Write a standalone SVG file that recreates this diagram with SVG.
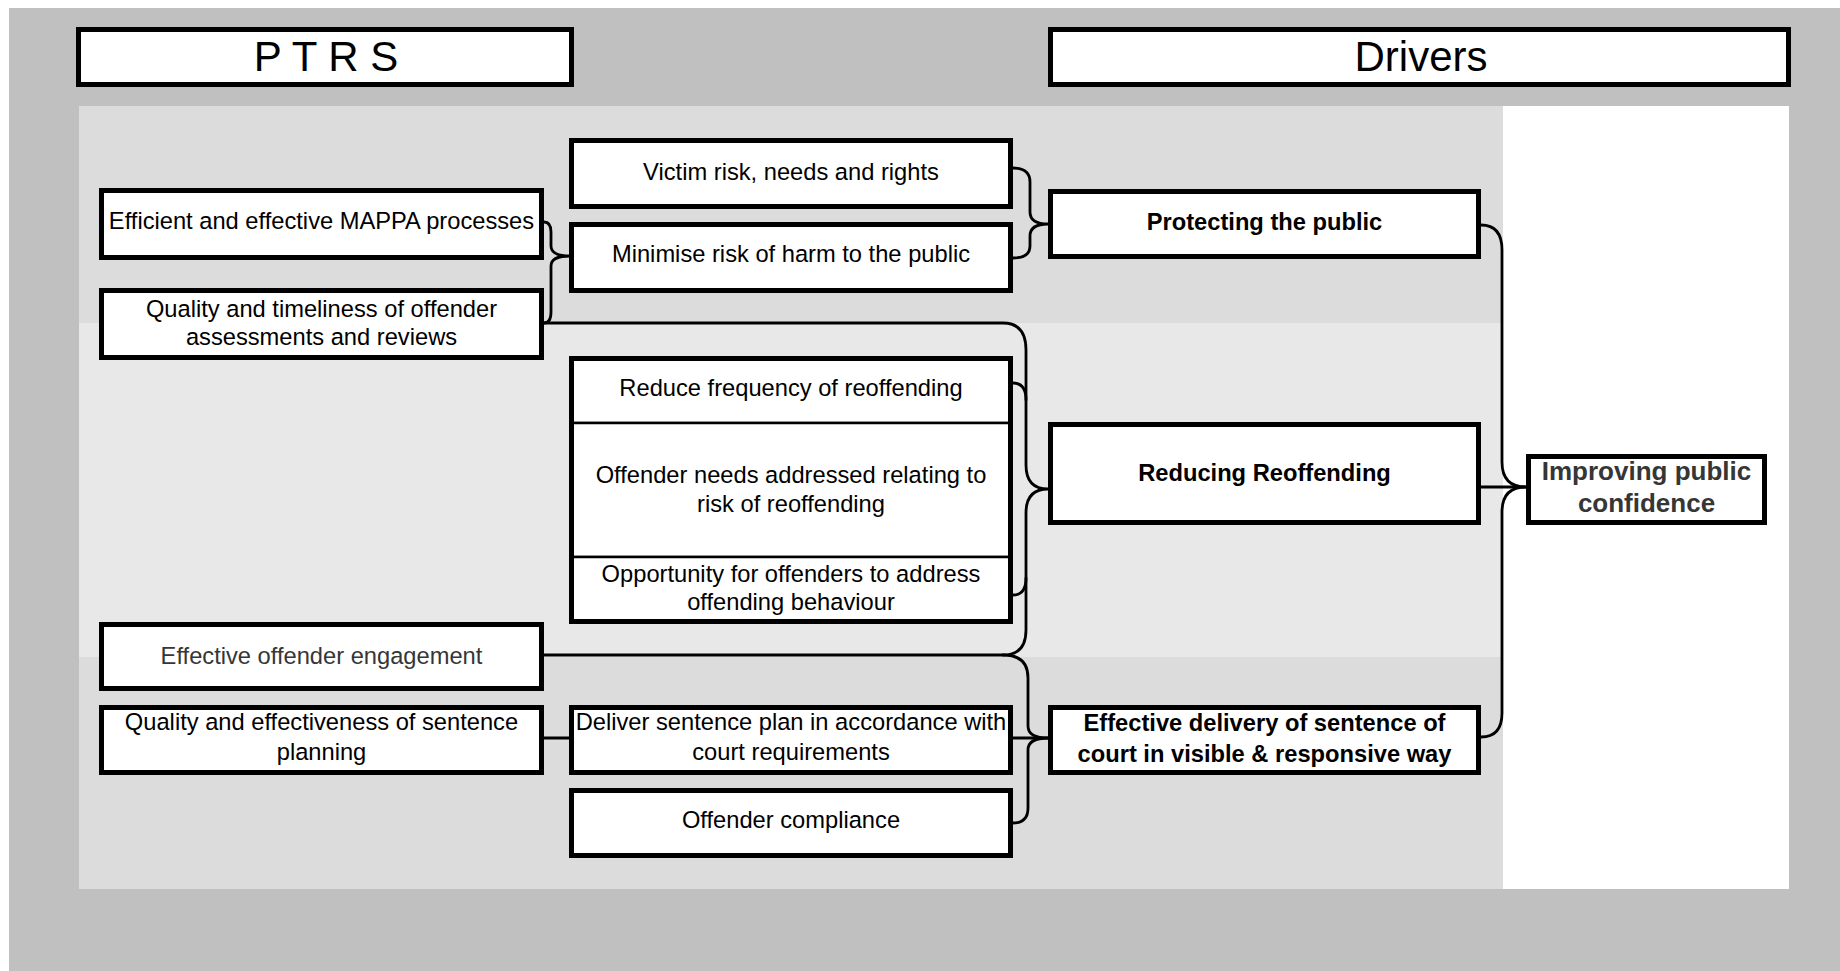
<svg xmlns="http://www.w3.org/2000/svg" width="1840" height="971" viewBox="0 0 1840 971">
<style>
.box{fill:#fff;stroke:#000;stroke-width:5}
.cell{fill:#fff;stroke:#000;stroke-width:2.5}
.frame{fill:none;stroke:#000;stroke-width:5}
.conn{fill:none;stroke:#000;stroke-width:2.8;stroke-linejoin:round;stroke-linecap:round}
.t{font-family:"Liberation Sans",Arial,sans-serif;font-size:23.7px;fill:#000;text-anchor:middle}
.b{font-weight:bold}
.g{fill:#363636}
.h{font-family:"Liberation Sans",Arial,sans-serif;font-size:42px;fill:#000;text-anchor:middle}
</style>
<rect x="0" y="0" width="1840" height="971" fill="#fff"/>
<rect x="9" y="8" width="1831" height="963" fill="#c0c0c0"/>
<rect x="79" y="106" width="1424" height="217" fill="#dcdcdc"/>
<rect x="79" y="323" width="1424" height="334" fill="#e8e8e8"/>
<rect x="79" y="657" width="1424" height="232" fill="#dcdcdc"/>
<rect x="1503" y="106" width="286" height="783" fill="#fff"/>

<g id="connectors">
<path class="conn" d="M1013 168 Q1030 168 1030 182 L1030 212 Q1030 224 1048 224 Q1030 224 1030 236 L1030 246 Q1030 258 1013 258"/>
<path class="conn" d="M544 222 Q551 222 551 232 L551 246 Q551 256 570 256 Q551 256 551 266 L551 312 Q551 323 544 323"/>
<path class="conn" d="M544 323 L1003 323 Q1026 323 1026 350 L1026 465 Q1026 489 1048 489 Q1026 489 1026 513 L1026 630 Q1026 655 1003 655 L544 655"/>
<path class="conn" d="M1013 383 Q1026 383 1026 400 M1026 578 Q1026 595 1013 595"/>
<path class="conn" d="M1003 655 Q1028 655 1028 678 L1028 726 Q1028 738 1048 738 Q1028 738 1028 750 L1028 808 Q1028 823 1013 823"/>
<path class="conn" d="M1013 738 L1048 738"/>
<path class="conn" d="M544 738 L570 738"/>
<path class="conn" d="M1481 225 Q1502 225 1502 250 L1502 462 Q1502 487 1526 487 Q1502 487 1502 512 L1502 713 Q1502 737 1481 737"/>
<path class="conn" d="M1481 487 L1526 487"/>
</g>

<g id="hdr-ptrs"><rect class="box" x="78.5" y="29.5" width="493" height="55"/><text class="h" x="326" y="71">P T R S</text></g>
<g id="hdr-drivers"><rect class="box" x="1050.5" y="29.5" width="738" height="55"/><text class="h" x="1421" y="71">Drivers</text></g>

<g id="victim"><rect class="box" x="571.5" y="140.5" width="439" height="66"/><text class="t" x="791" y="180">Victim risk, needs and rights</text></g>
<g id="minimise"><rect class="box" x="571.5" y="224.5" width="439" height="66"/><text class="t" x="791" y="262">Minimise risk of harm to the public</text></g>
<g id="mappa"><rect class="box" x="101.5" y="190.5" width="440" height="67"/><text class="t" x="321.5" y="229">Efficient and effective MAPPA processes</text></g>
<g id="assessments"><rect class="box" x="101.5" y="290.5" width="440" height="67"/><text class="t" x="321.5" y="317">Quality and timeliness of offender</text><text class="t" x="321.5" y="345">assessments and reviews</text></g>
<g id="protecting"><rect class="box" x="1050.5" y="191.5" width="428" height="65"/><text class="t b" x="1264.5" y="230">Protecting the public</text></g>

<g id="reduce-frequency"><rect class="cell" x="571.5" y="358.5" width="439" height="64.5"/><text class="t" x="791" y="396">Reduce frequency of reoffending</text></g>
<g id="offender-needs"><rect class="cell" x="571.5" y="423" width="439" height="134"/><text class="t" x="791" y="483">Offender needs addressed relating to</text><text class="t" x="791" y="512">risk of reoffending</text></g>
<g id="opportunity"><rect class="cell" x="571.5" y="557" width="439" height="64.5"/><text class="t" x="791" y="582">Opportunity for offenders to address</text><text class="t" x="791" y="610">offending behaviour</text></g>
<g id="reoffending-frame"><rect class="frame" x="571.5" y="358.5" width="439" height="263"/></g>

<g id="reducing"><rect class="box" x="1050.5" y="424.5" width="428" height="98"/><text class="t b" x="1264.5" y="481">Reducing Reoffending</text></g>
<g id="improving"><rect class="box" x="1528.5" y="456.5" width="236" height="66"/><text class="t b g" style="font-size:26px" x="1646.5" y="480">Improving public</text><text class="t b g" style="font-size:26px" x="1646.5" y="512">confidence</text></g>

<g id="engagement"><rect class="box" x="101.5" y="624.5" width="440" height="64"/><text class="t g" x="321.5" y="664">Effective offender engagement</text></g>
<g id="sentence-planning"><rect class="box" x="101.5" y="707.5" width="440" height="65"/><text class="t" x="321.5" y="730">Quality and effectiveness of sentence</text><text class="t" x="321.5" y="760">planning</text></g>
<g id="deliver"><rect class="box" x="571.5" y="707.5" width="439" height="65"/><text class="t" x="791" y="730">Deliver sentence plan in accordance with</text><text class="t" x="791" y="760">court requirements</text></g>
<g id="compliance"><rect class="box" x="571.5" y="790.5" width="439" height="65"/><text class="t" x="791" y="828">Offender compliance</text></g>
<g id="effective-delivery"><rect class="box" x="1050.5" y="707.5" width="428" height="65"/><text class="t b" x="1264.5" y="731">Effective delivery of sentence of</text><text class="t b" x="1264.5" y="762">court in visible &amp; responsive way</text></g>
</svg>
